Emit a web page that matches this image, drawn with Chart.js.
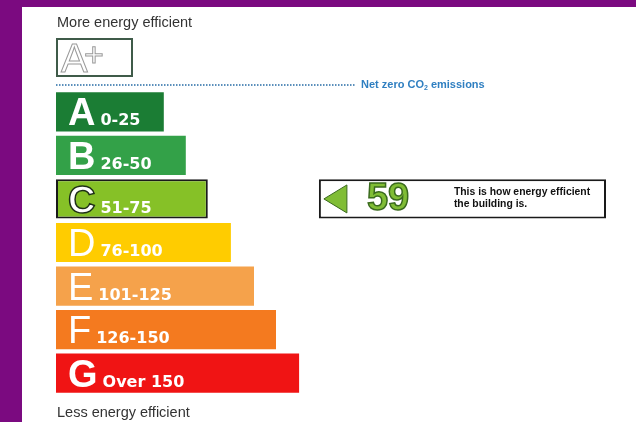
<!DOCTYPE html>
<html>
<head>
<meta charset="utf-8">
<title>Energy efficiency rating</title>
<script src="https://cdn.jsdelivr.net/npm/chart.js"></script>
<style>
  html, body { margin: 0; padding: 0; background: #fff; }
  canvas { display: block; }
</style>
</head>
<body>
<canvas id="epc" width="636" height="422"></canvas>
<script>
// rating bands, best to worst
const bands = ['A', 'B', 'C', 'D', 'E', 'F', 'G'];
const ranges = ['0-25', '26-50', '51-75', '76-100', '101-125', '126-150', 'Over 150'];
// bar lengths on a 0-100 scale (each band a bit longer than the last)
const barLengths = [19.6, 23.6, 27.6, 31.8, 36, 40, 44.2];
const currentRating = 59;
const currentBand = 'C';

const bandColors = ['#1b7d34', '#33a148', '#86c127', '#ffcc00', '#f5a24b', '#f47a1f', '#f01414'];
const purple = '#7b0a80';
const font = '"Liberation Sans", Arial, sans-serif';
const wideFont = '"DejaVu Sans", Verdana, sans-serif';

// white box with the arrow, spans this part of the x scale
const ratingBoxSpan = [47.8, 100];

const backdrop = {
  id: 'backdrop',
  beforeDraw(chart) {
    const ctx = chart.ctx;
    ctx.save();
    ctx.fillStyle = '#fff';
    ctx.fillRect(0, 0, chart.width, chart.height);
    ctx.fillStyle = purple;
    ctx.fillRect(0, 0, chart.width, 7);
    ctx.fillRect(0, 0, 22, chart.height);

    const left = chart.chartArea.left;
    ctx.fillStyle = '#333';
    ctx.font = '14.5px ' + font;
    ctx.textBaseline = 'alphabetic';
    ctx.fillText('More energy efficient', left + 1, 27);
    ctx.fillText('Less energy efficient', left + 1, 417);

    // A+ box
    ctx.strokeStyle = '#3f5b49';
    ctx.lineWidth = 2;
    ctx.strokeRect(left + 1, 39, 75, 37);
    ctx.fillStyle = '#fff';
    ctx.strokeStyle = '#9a9a9a';
    ctx.lineWidth = 1;
    ctx.font = '40px ' + font;
    ctx.fillText('A', left + 5, 72);
    ctx.strokeText('A', left + 5, 72);
    ctx.font = '34px ' + font;
    ctx.fillText('+', left + 28, 66);
    ctx.strokeText('+', left + 28, 66);

    // net zero line
    ctx.strokeStyle = '#5b8fbb';
    ctx.lineWidth = 2;
    ctx.setLineDash([1.5, 1.5]);
    ctx.beginPath();
    ctx.moveTo(left, 85);
    ctx.lineTo(356, 85);
    ctx.stroke();
    ctx.setLineDash([]);
    ctx.fillStyle = '#2f7fc1';
    ctx.font = 'bold 11px ' + font;
    ctx.textBaseline = 'middle';
    let x = 361;
    ctx.fillText('Net zero CO', x, 85);
    x += ctx.measureText('Net zero CO').width;
    ctx.font = 'bold 7px ' + font;
    ctx.fillText('2', x, 88);
    x += ctx.measureText('2').width;
    ctx.font = 'bold 11px ' + font;
    ctx.fillText(' emissions', x, 85);
    ctx.restore();
  }
};

const bandLabels = {
  id: 'bandLabels',
  afterDatasetsDraw(chart) {
    const ctx = chart.ctx;
    const meta = chart.getDatasetMeta(0);
    const bold = { A: 'bold ', B: 'bold ', C: 'bold ', G: 'bold ' };
    ctx.save();
    ctx.textBaseline = 'alphabetic';
    meta.data.forEach((bar, i) => {
      const b = bands[i];
      const bottom = bar.y + bar.height / 2;
      const lx = bar.base + 12;
      ctx.font = (bold[b] || '') + '38px ' + font;
      ctx.fillStyle = '#fff';
      ctx.fillText(b, lx, bottom - 6);
      if (b === currentBand) {
        ctx.strokeStyle = '#1d2e17';
        ctx.lineWidth = 1.5;
        ctx.strokeText(b, lx, bottom - 6);
      }
      const w = ctx.measureText(b).width;
      ctx.font = 'bold 16px ' + wideFont;
      ctx.fillText(ranges[i], lx + w + 5, bottom - 6);
    });

    // rating marker inside the white box
    const box = chart.getDatasetMeta(1).data[bands.indexOf(currentBand)];
    const x0 = box.base;
    const cy = box.y;
    ctx.fillStyle = '#80bd35';
    ctx.strokeStyle = '#3a6a1e';
    ctx.lineWidth = 1;
    ctx.beginPath();
    ctx.moveTo(x0 + 5, cy);
    ctx.lineTo(x0 + 28, cy - 14);
    ctx.lineTo(x0 + 28, cy + 14);
    ctx.closePath();
    ctx.fill();
    ctx.stroke();

    ctx.font = 'bold 38px ' + font;
    ctx.textBaseline = 'middle';
    ctx.lineWidth = 1.5;
    ctx.fillText(String(currentRating), x0 + 48, cy + 1);
    ctx.strokeText(String(currentRating), x0 + 48, cy + 1);

    ctx.fillStyle = '#111';
    ctx.font = 'bold 10.4px ' + font;
    ctx.textBaseline = 'alphabetic';
    ctx.fillText('This is how energy efficient', x0 + 135, cy - 4);
    ctx.fillText('the building is.', x0 + 135, cy + 8);
    ctx.restore();
  }
};

new Chart(document.getElementById('epc'), {
  type: 'bar',
  data: {
    labels: bands,
    datasets: [
      {
        data: barLengths,
        backgroundColor: bandColors,
        borderColor: bands.map(b => b === currentBand ? '#1a1a1a' : 'rgba(0,0,0,0)'),
        borderWidth: bands.map(b => b === currentBand ? 2 : 0),
        borderSkipped: false,
        barPercentage: 0.9,
        categoryPercentage: 1,
        grouped: false
      },
      {
        data: bands.map(b => b === currentBand ? ratingBoxSpan : null),
        backgroundColor: '#fff',
        borderColor: '#1a1a1a',
        borderWidth: 2,
        borderSkipped: false,
        barPercentage: 0.9,
        categoryPercentage: 1,
        grouped: false
      }
    ]
  },
  options: {
    indexAxis: 'y',
    responsive: false,
    animation: false,
    layout: { padding: { left: 56, right: 30, top: 90, bottom: 27 } },
    scales: {
      x: { display: false, min: 0, max: 100 },
      y: { display: false }
    },
    plugins: {
      legend: { display: false },
      tooltip: { enabled: false }
    }
  },
  plugins: [backdrop, bandLabels]
});
</script>
</body>
</html>
